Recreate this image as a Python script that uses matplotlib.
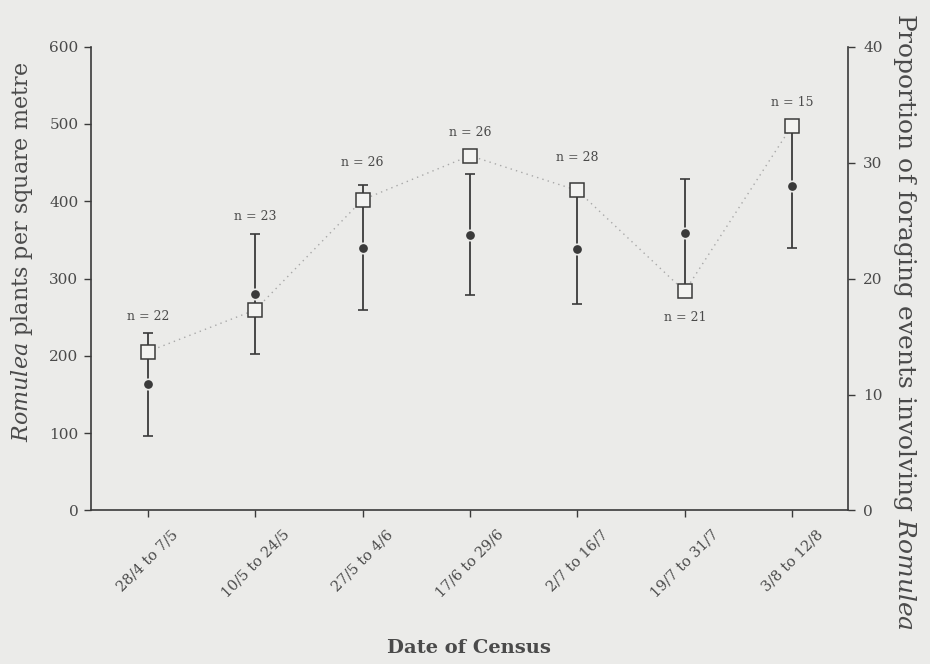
import matplotlib
matplotlib.use('Agg')
import matplotlib.pyplot as plt
import numpy as np

# ---- data ----
periods = ['28/4 to 7/5', '10/5 to 24/5', '27/5 to 4/6', '17/6 to 29/6',
           '2/7 to 16/7', '19/7 to 31/7', '3/8 to 12/8']
density = [163, 280, 340, 357, 338, 359, 420]          # Romulea plants per m^2
density_err = [67, 78, 81, 78, 71, 70, 81]
proportion = [13.7, 17.3, 26.8, 30.6, 27.6, 18.9, 33.2]  # % foraging events
n_events = [22, 23, 26, 26, 28, 21, 15]

# ---- style ----
BG = '#ebebe9'
INK = '#3a3a3a'
TXT = '#4a4a4a'
label_offsets = [12, 12.5, 16, 17, 24, -19, 15]  # points, label vs. top mark

plt.rcParams['font.family'] = 'DejaVu Serif'
plt.rcParams['mathtext.fontset'] = 'custom'
plt.rcParams['mathtext.it'] = 'DejaVu Serif:italic'
plt.rcParams['mathtext.rm'] = 'DejaVu Serif'

fig = plt.figure(figsize=(9.3, 6.64), dpi=100, facecolor=BG)
ax = fig.add_axes([0.0978, 0.2312, 0.8140, 0.6985])
ax.set_facecolor('none')

x = np.arange(len(periods))
ax.errorbar(x, density, yerr=density_err, fmt='o', color=INK, ecolor=INK,
            elinewidth=1.3, capsize=3.5, capthick=1.3, markersize=7.5,
            markeredgecolor=BG, markeredgewidth=1.2, zorder=3)
ax.set_ylim(0, 600)
ax.set_xlim(-0.53, 6.52)
ax.set_yticks(range(0, 601, 100))
ax.set_xticks(x)
ax.set_xticklabels(periods, rotation=45, ha='center', fontsize=10.5, color=TXT)
for lab in ax.get_yticklabels():
    lab.set_color(TXT)
ax.tick_params(axis='y', direction='out', length=5, width=1, pad=4,
               labelsize=11, color=INK)
ax.tick_params(axis='x', direction='out', length=5, width=1, pad=7, color=INK)
for s in ['top', 'right']:
    ax.spines[s].set_visible(False)
for s in ['left', 'bottom']:
    ax.spines[s].set_color(INK)
    ax.spines[s].set_linewidth(1.2)

ax.set_ylabel(r'$\it{Romulea}$ plants per square metre', fontsize=16, color=TXT,
              va='center', ha='center', rotation_mode='anchor')
ax.yaxis.set_label_coords(-0.091, 0.557)

# ---- right axis ----
ax2 = ax.twinx()
ax2.set_facecolor('none')
ax2.plot(x, proportion, linestyle=(0, (1, 3)), color='#a8a8a8', lw=1, zorder=1)
ax2.plot(x, proportion, 's', markersize=10.5, markerfacecolor='#f3f3f1',
         markeredgecolor=INK, markeredgewidth=1.1, linestyle='none', zorder=4)
ax2.set_ylim(0, 40)
ax2.set_yticks(range(0, 41, 10))
ax2.tick_params(axis='y', direction='out', length=5, width=1, pad=6,
                labelsize=11, color=INK, labelcolor=TXT)
for s in ['top', 'left', 'bottom']:
    ax2.spines[s].set_visible(False)
ax2.spines['right'].set_color(INK)
ax2.spines['right'].set_linewidth(1.2)
ax2.set_ylabel(r'Proportion of foraging events involving $\it{Romulea}$',
               fontsize=18, color=TXT, rotation=-90, va='center', ha='center',
               rotation_mode='anchor')
ax2.yaxis.set_label_coords(1.075, 0.408)

# ---- n labels ----
scale = 600 / 40
for i in range(len(x)):
    sq = proportion[i] * scale
    if label_offsets[i] < 0:
        anchor = sq
    else:
        anchor = max(density[i] + density_err[i], sq)
    ax.annotate(f'n = {n_events[i]}', (x[i], anchor), xytext=(0, label_offsets[i]),
                textcoords='offset points', ha='center', va='center',
                fontsize=9, color=TXT, zorder=6)

fig.text(0.504, 0.0166, 'Date of Census', ha='center', va='baseline',
         fontsize=14, fontweight='bold', color=TXT)

fig.savefig('out.png', dpi=100, facecolor=BG)
